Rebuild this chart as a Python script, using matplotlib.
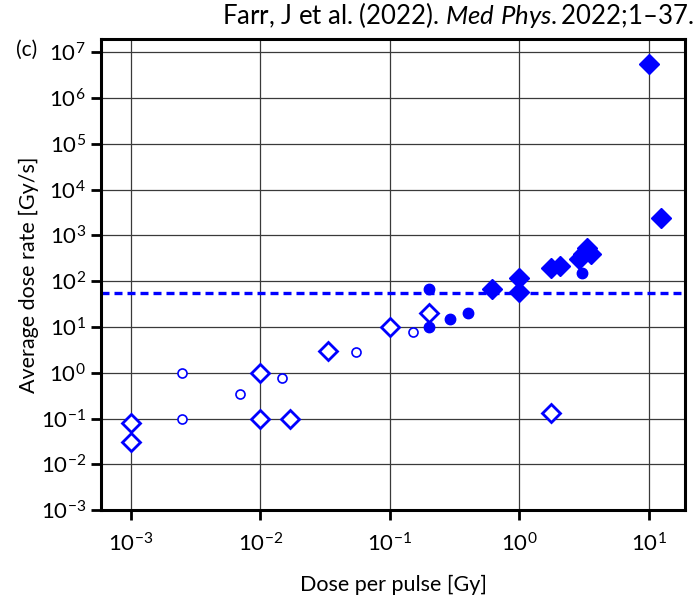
import matplotlib.pyplot as plt
import numpy as np

plt.rcParams['font.family'] = ['Lato', 'DejaVu Sans']
plt.rcParams['mathtext.fontset'] = 'custom'
plt.rcParams['mathtext.rm'] = 'Lato'
plt.rcParams['mathtext.it'] = 'Lato:italic'
plt.rcParams['mathtext.default'] = 'regular'

# open diamonds
od_x = [0.001, 0.001, 0.01, 0.01, 0.017, 0.033, 0.1, 0.2, 1.77]
od_y = [0.078, 0.03, 1.0, 0.1, 0.1, 3.0, 10, 20, 0.13]

# open circles
oc_x = [0.0025, 0.0025, 0.007, 0.0148, 0.055, 0.15]
oc_y = [1.0, 0.1, 0.35, 0.75, 2.8, 7.6]

# filled circles
fc_x = [0.2, 0.2, 0.29, 0.4, 3.05]
fc_y = [67, 10, 15, 20, 153]

# filled diamonds
fd_x = [0.62, 1.0, 1.0, 1.74, 2.06, 2.87, 3.1, 3.33, 3.6, 10, 12.4]
fd_y = [66, 115, 59, 197, 218, 300, 400, 520, 390, 5.5e6, 2440]

threshold = 56

blue = '#0000ff'

fig = plt.figure(figsize=(6.97, 5.98), dpi=100)
ax = fig.add_axes([0.145, 0.147, 0.838, 0.788])

ax.axhline(threshold, color=blue, lw=2.4, ls=(0, (2.4, 1.5)), zorder=2)
ax.plot(od_x, od_y, 'D', ms=9, mfc='white', mec=blue, mew=2.0, ls='none', zorder=3)
ax.plot(oc_x, oc_y, 'o', ms=6.5, mfc='white', mec=blue, mew=1.2, ls='none', zorder=3)
ax.plot(fc_x, fc_y, 'o', ms=7.5, color=blue, ls='none', zorder=3)
ax.plot(fd_x, fd_y, 'D', ms=10, color=blue, ls='none', zorder=3)

ax.set_xscale('log')
ax.set_yscale('log')
ax.set_xlim(10**-3.23, 10**1.28)
ax.set_ylim(1e-3, 10**7.29)

xt = [1e-3, 1e-2, 1e-1, 1e0, 1e1]
ax.set_xticks(xt)
ax.set_xticklabels(['$10^{%d}$' % int(np.log10(v)) for v in xt])
yt = [10.0**k for k in range(-3, 8)]
ax.set_yticks(yt)
ax.set_yticklabels(['$10^{%d}$' % k for k in range(-3, 8)])
ax.minorticks_off()

ax.grid(True, color='#3a3a3a', lw=0.9)
ax.set_axisbelow(True)
for s in ax.spines.values():
    s.set_linewidth(2.2)
ax.tick_params(axis='both', direction='out', length=7, width=2, labelsize=16)
ax.tick_params(axis='x', pad=9)
ax.tick_params(axis='y', pad=4)

ax.set_xlabel('Dose per pulse [Gy]', fontsize=15.5, labelpad=14)
ax.set_ylabel('Average dose rate [Gy/s]', fontsize=15.5, labelpad=1)

fig.text(0.023, 0.917, '(c)', fontsize=15, va='center')
fig.text(0.995, 0.975, r'Farr, J et al. (2022). $\it{Med\ Phys.}$2022;1–37.',
         fontsize=18.5, ha='right', va='center')

fig.savefig('out.png', dpi=100)
